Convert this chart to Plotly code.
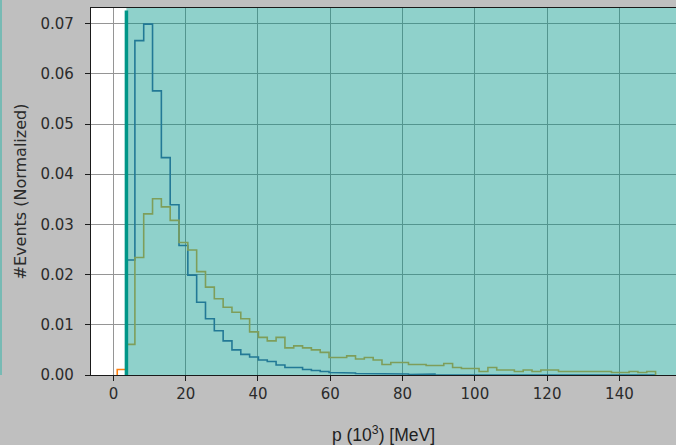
import numpy as np
import plotly.graph_objects as go

# Momentum histograms (normalized), 60 bins between the cut and 150 x10^3 MeV
bin_lo, bin_hi, n_bins = 3.5, 150.0, 60
p_cut = 3.6

signal = [0.0229, 0.0666, 0.0699, 0.0566, 0.0433, 0.0339, 0.0258, 0.0199, 0.0145, 0.0112,
          0.0088, 0.0068, 0.0050, 0.0041, 0.0036, 0.0030, 0.0027, 0.0020, 0.0015, 0.0015,
          0.0011, 0.0009, 0.0007, 0.0005, 0.0004, 0.0004, 0.0003, 0.0003, 0.0002, 0.0002,
          0.0003, 0.0002, 0.0001, 0.0002, 0.0002, 0.0, 0.0, 0.0, 0.0, 0.0,
          0.0, 0.0, 0.0, 0.0, 0.0, 0.0, 0.0, 0.0, 0.0, 0.0,
          0.0, 0.0, 0.0, 0.0, 0.0, 0.0, 0.0, 0.0, 0.0, 0.0]

background = [0.0061, 0.0234, 0.0321, 0.0351, 0.0335, 0.0308, 0.0264, 0.0249, 0.0206, 0.0175,
              0.0152, 0.0135, 0.0125, 0.0112, 0.0086, 0.0075, 0.0068, 0.0075, 0.0054, 0.0058,
              0.0054, 0.0050, 0.0045, 0.0035, 0.0035, 0.0038, 0.0032, 0.0035, 0.0030, 0.0021,
              0.0025, 0.0025, 0.0021, 0.0021, 0.0019, 0.0019, 0.0023, 0.0015, 0.0013, 0.0013,
              0.0007, 0.0015, 0.0010, 0.0010, 0.0007, 0.0010, 0.0007, 0.0010, 0.0010, 0.0007,
              0.0007, 0.0007, 0.0007, 0.0007, 0.0007, 0.0005, 0.0005, 0.0007, 0.0005, 0.0007]

low_edges = [1.06, 3.5]
low_tail = [0.0011]

x_ticks = [0, 20, 40, 60, 80, 100, 120, 140]
y_ticks = [0.00, 0.01, 0.02, 0.03, 0.04, 0.05, 0.06, 0.07]

edges = np.linspace(bin_lo, bin_hi, n_bins + 1)


def step_outline(e, v):
    xs, ys = [e[0]], [0.0]
    for i, val in enumerate(v):
        xs += [e[i], e[i + 1]]
        ys += [val, val]
    xs.append(e[-1])
    ys.append(0.0)
    return xs, ys


fig = go.Figure()
for e, vals, col in [(edges, signal, "rgb(62,98,160)"),
                     (edges, background, "rgb(225,165,55)"),
                     (low_edges, low_tail, "#ff7f0e")]:
    xs, ys = step_outline(list(e), vals)
    fig.add_trace(go.Scatter(x=xs, y=ys, mode="lines",
                             line=dict(color=col, width=1.6),
                             hoverinfo="skip", showlegend=False))

W, H = 676, 445
ml, mr, mt, mb = 91, 0, 8, 70
ph = H - mt - mb

# shaded accepted region and the cut line
fig.add_shape(type="rect", xref="x", yref="paper", x0=p_cut, x1=400, y0=0, y1=1,
              fillcolor="rgb(0,150,136)", opacity=0.44, line_width=0, layer="above")
fig.add_shape(type="line", xref="x", yref="paper", x0=p_cut, x1=p_cut, y0=0, y1=0.993,
              line=dict(color="rgb(0,150,136)", width=3.5), layer="above")
# thin accent strip at the far left
fig.add_shape(type="line", xref="paper", yref="paper",
              x0=(1 - ml) / (W - ml - mr), x1=(1 - ml) / (W - ml - mr),
              y0=0, y1=1 + mt / ph,
              line=dict(color="rgb(95,185,176)", width=1.5), layer="above")

tick_font = dict(family="DejaVu Sans", size=15, color="#2b2b2b")
fig.update_layout(
    width=W, height=H,
    margin=dict(l=ml, r=mr, t=mt, b=mb),
    paper_bgcolor="rgb(191,191,191)",
    plot_bgcolor="white",
    font=tick_font,
    xaxis=dict(range=[-6.2, 155.65], tickvals=x_ticks, ticktext=[str(t) for t in x_ticks],
               tickfont=tick_font,
               showgrid=True, gridcolor="#959595", gridwidth=1.2,
               showline=True, linecolor="#1a1a1a", linewidth=1.2, mirror=True,
               ticks="outside", ticklen=5, tickcolor="#1a1a1a",
               zeroline=False,
               title=dict(text="p (10<sup>3</sup>) [MeV]", standoff=27,
                          font=dict(family="Liberation Sans", size=17.5, color="#1e1e1e"))),
    yaxis=dict(range=[0, ph / 5020], tickvals=y_ticks,
               ticktext=[f"{t:.2f}" for t in y_ticks],
               tickfont=tick_font,
               showgrid=True, gridcolor="#959595", gridwidth=1.2,
               showline=True, linecolor="#1a1a1a", linewidth=1.2,
               ticks="outside", ticklen=5, tickcolor="#1a1a1a",
               zeroline=False, ticklabelstandoff=8,
               title=dict(text="#Events (Normalized)", standoff=9,
                          font=dict(family="DejaVu Sans", size=16, color="#2b2b2b"))),
)

fig.write_html("out.html")
